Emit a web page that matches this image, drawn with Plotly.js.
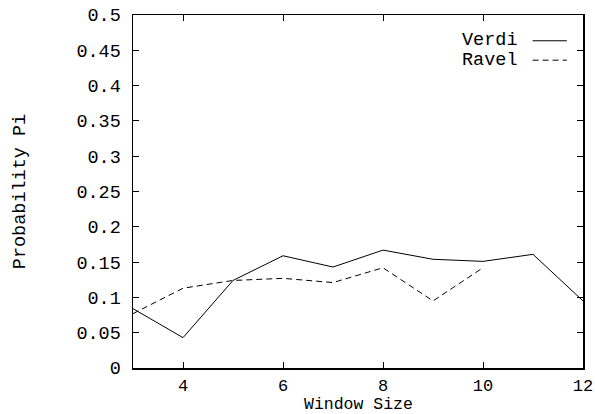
<!DOCTYPE html>
<html>
<head>
<meta charset="utf-8">
<script src="https://cdn.plot.ly/plotly-3.0.1.min.js"></script>
<style>html,body{margin:0;padding:0;background:#fff;}#chart{width:595px;height:414px;}</style>
</head>
<body>
<div id="chart"></div>
<script>
const windowSizes = [3, 4, 5, 6, 7, 8, 9, 10, 11, 12];
const verdi = [0.084, 0.043, 0.124, 0.159, 0.143, 0.167, 0.154, 0.151, 0.161, 0.095];
const ravelSizes = [3, 4, 5, 6, 7, 8, 9, 10];
const ravel = [0.077, 0.113, 0.124, 0.127, 0.121, 0.142, 0.095, 0.142];
const yTickVals = [0, 0.05, 0.1, 0.15, 0.2, 0.25, 0.3, 0.35, 0.4, 0.45, 0.5];
const yTickText = ["0", "0.05", "0.1", "0.15", "0.2", "0.25", "0.3", "0.35", "0.4", "0.45", "0.5"];
const xTickVals = [4, 6, 8, 10, 12];
const xTickText = ["4", "6", "8", "10", "12"];
const seriesNames = ["Verdi", "Ravel"];
const xTitle = "Window Size";
const yTitle = "Probability Pi";

const FONT = "Liberation Mono, Courier New, monospace";
const FS = 18.5;

const traces = [
  {x: windowSizes, y: verdi, mode: "lines", name: seriesNames[0], showlegend: false,
   line: {color: "#000", width: 1}},
  {x: ravelSizes, y: ravel, mode: "lines", name: seriesNames[1], showlegend: false,
   line: {color: "#000", width: 1, dash: "6px,4px"}}
];

const axisCommon = {
  showgrid: false, zeroline: false, showline: true, linecolor: "#000", linewidth: 1.5,
  mirror: "ticks", ticks: "inside", ticklen: 6, tickcolor: "#000", tickwidth: 1,
  tickfont: {family: FONT, size: FS, color: "#000"}
};

const layout = {
  width: 595, height: 414,
  margin: {l: 133, r: 12, t: 15, b: 46},
  paper_bgcolor: "#fff", plot_bgcolor: "#fff",
  font: {family: FONT, size: FS, color: "#000"},
  xaxis: Object.assign({}, axisCommon, {
    range: [3, 12], tickvals: xTickVals, ticktext: xTickText, ticklabelstandoff: 1,
    tickfont: {family: FONT, size: 17, color: "#000"}
  }),
  yaxis: Object.assign({}, axisCommon, {
    range: [0, 0.5], tickvals: yTickVals, ticktext: yTickText, ticklabelstandoff: 7,
    title: {text: yTitle, font: {family: FONT, size: FS, color: "#000"}, standoff: 46}
  }),
  annotations: [
    {xref: "paper", yref: "paper", x: 0.5, y: -0.1034, xanchor: "center", yanchor: "middle",
     text: xTitle, showarrow: false, borderpad: 0, font: {family: FONT, size: 16.5, color: "#000"}},
    {xref: "paper", yref: "paper", x: 0.86, y: 0.927, xanchor: "right", yanchor: "middle",
     text: seriesNames[0], showarrow: false, font: {family: FONT, size: FS, color: "#000"}},
    {xref: "paper", yref: "paper", x: 0.86, y: 0.872, xanchor: "right", yanchor: "middle",
     text: seriesNames[1], showarrow: false, font: {family: FONT, size: FS, color: "#000"}}
  ],
  shapes: [
    {type: "line", xref: "paper", yref: "paper", x0: 0.888, x1: 0.964, y0: 0.927, y1: 0.927,
     line: {color: "#000", width: 1}},
    {type: "line", xref: "paper", yref: "paper", x0: 0.888, x1: 0.964, y0: 0.872, y1: 0.872,
     line: {color: "#000", width: 1, dash: "6px,4px"}}
  ]
};

Plotly.newPlot("chart", traces, layout, {displayModeBar: false, staticPlot: true});
</script>
</body>
</html>
